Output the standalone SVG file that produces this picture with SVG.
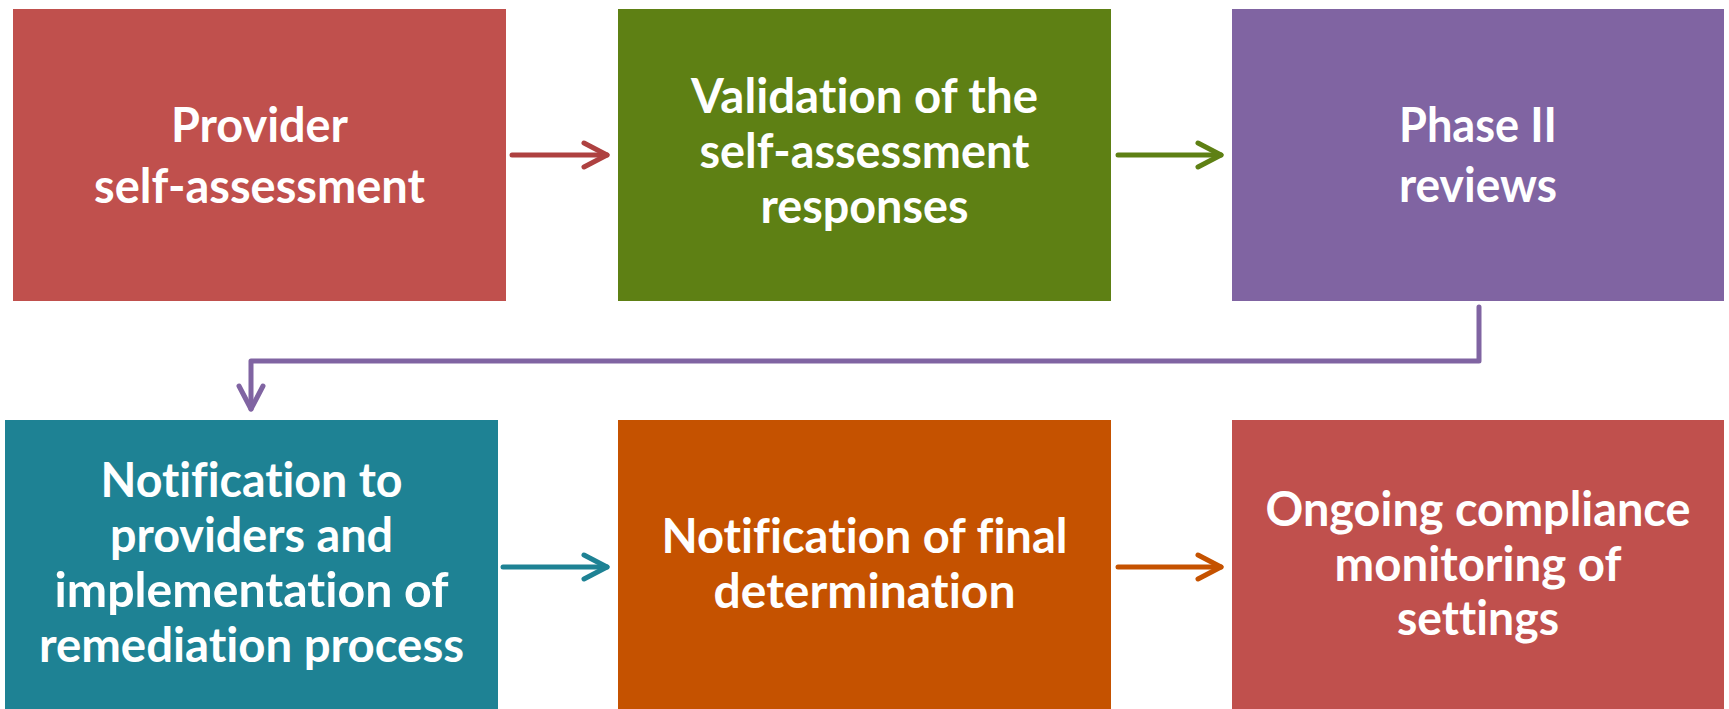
<svg xmlns="http://www.w3.org/2000/svg" width="1729" height="709" viewBox="0 0 1729 709">
<style>
.lbl{font-family:Lato,"Open Sans","Liberation Sans",sans-serif;font-weight:700;font-size:48px;fill:#fff;text-anchor:middle;font-variant-ligatures:none}
.con{fill:none;stroke-width:5;stroke-linecap:round;stroke-linejoin:round}
</style>
<rect width="1729" height="709" fill="#fff"/>
<g id="n1"><rect x="13" y="9" width="493" height="292" fill="#C0504D"/>
<text class="lbl" x="259.5" y="142" textLength="177" lengthAdjust="spacingAndGlyphs">Provider</text>
<text class="lbl" x="259.5" y="203" textLength="331" lengthAdjust="spacingAndGlyphs">self-assessment</text></g>
<g id="n2"><rect x="618" y="9" width="493" height="292" fill="#5E8014"/>
<text class="lbl" x="864.5" y="113" textLength="347" lengthAdjust="spacingAndGlyphs">Validation of the</text>
<text class="lbl" x="864.5" y="168" textLength="330" lengthAdjust="spacingAndGlyphs">self-assessment</text>
<text class="lbl" x="864.5" y="223" textLength="208" lengthAdjust="spacingAndGlyphs">responses</text></g>
<g id="n3"><rect x="1232" y="9" width="492" height="292" fill="#8064A2"/>
<text class="lbl" x="1478" y="142" textLength="158" lengthAdjust="spacingAndGlyphs">Phase II</text>
<text class="lbl" x="1478" y="202" textLength="158" lengthAdjust="spacingAndGlyphs">reviews</text></g>
<g id="n4"><rect x="5" y="420" width="493" height="289" fill="#1E8294"/>
<text class="lbl" x="251.5" y="497" textLength="302" lengthAdjust="spacingAndGlyphs">Notification to</text>
<text class="lbl" x="251.5" y="552" textLength="283" lengthAdjust="spacingAndGlyphs">providers and</text>
<text class="lbl" x="251.5" y="607" textLength="394" lengthAdjust="spacingAndGlyphs">implementation of</text>
<text class="lbl" x="251.5" y="662" textLength="425" lengthAdjust="spacingAndGlyphs">remediation process</text></g>
<g id="n5"><rect x="618" y="420" width="493" height="289" fill="#C55200"/>
<text class="lbl" x="864.5" y="553" textLength="406" lengthAdjust="spacingAndGlyphs">Notification of final</text>
<text class="lbl" x="864.5" y="608" textLength="302" lengthAdjust="spacingAndGlyphs">determination</text></g>
<g id="n6"><rect x="1232" y="420" width="492" height="289" fill="#C0504D"/>
<text class="lbl" x="1478" y="526" textLength="425" lengthAdjust="spacingAndGlyphs">Ongoing compliance</text>
<text class="lbl" x="1478" y="581" textLength="287" lengthAdjust="spacingAndGlyphs">monitoring of</text>
<text class="lbl" x="1478" y="635" textLength="162" lengthAdjust="spacingAndGlyphs">settings</text></g>
<g id="connectors">
<g stroke="#AE4140" class="con"><path d="M512 155H607"/><path d="M584 143L607 155L584 167"/></g>
<g stroke="#5E8014" class="con"><path d="M1118 155H1221"/><path d="M1198 143L1221 155L1198 167"/></g>
<g stroke="#8064A2" class="con"><path d="M1479 307V361H251V409"/><path d="M239 386L251 409L263 386"/></g>
<g stroke="#1E8294" class="con"><path d="M503 567H607"/><path d="M584 555L607 567L584 579"/></g>
<g stroke="#C55200" class="con"><path d="M1118 567H1221"/><path d="M1198 555L1221 567L1198 579"/></g>
</g>
</svg>
